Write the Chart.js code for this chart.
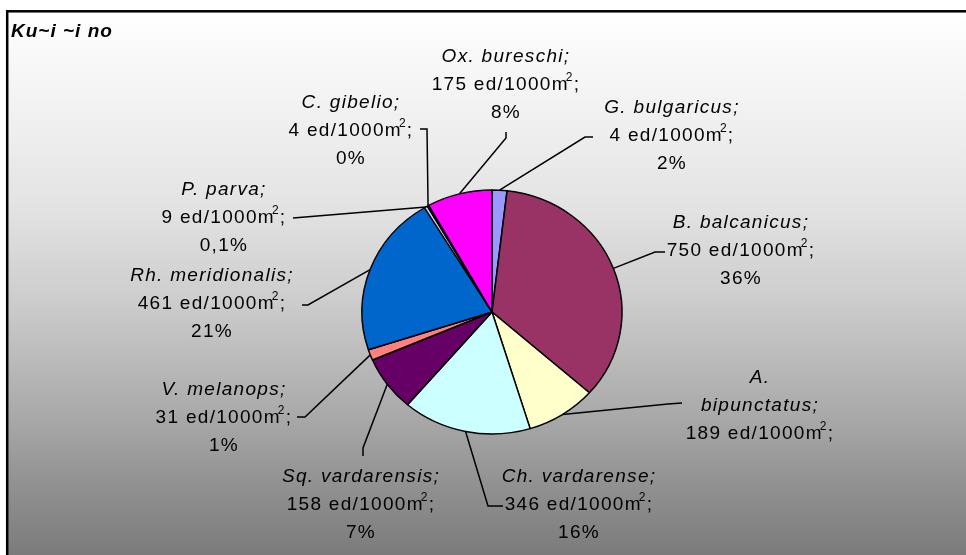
<!DOCTYPE html>
<html>
<head>
<meta charset="utf-8">
<script src="https://cdn.jsdelivr.net/npm/chart.js@4"></script>
<style>
  html, body { margin: 0; padding: 0; background: #fff; overflow: hidden; }
  canvas { display: block; }
</style>
</head>
<body>
<canvas id="grafico" width="966" height="555"></canvas>
<script>
// clockwise from 12 o'clock
let species = ["G. bulgaricus", "B. balcanicus", "A.\nbipunctatus", "Ch. vardarense", "Sq. vardarensis",
  "V. melanops", "Rh. meridionalis", "P. parva", "C. gibelio", "Ox. bureschi"];
// slice sizes (ed/1000m2) as drawn; G. bulgaricus slice is ~2% although its label says 4
let densities = [40, 750, 189, 346, 158, 31, 461, 9, 4, 175];
let densityLabels = ["4", "750", "189", "346", "158", "31", "461", "9", "4", "175"];
let percentLabels = ["2%", "36%", "", "16%", "7%", "1%", "21%", "0,1%", "0%", "8%"];
let colors = ["#9999FF", "#993366", "#FFFFCC", "#CCFFFF", "#660066", "#FF8080", "#0066CC", "#CCCCFF", "#000080", "#FF00FF"];

// label block centre x, first line y, and leader line points near the text
let layout = [
  { x: 672, y: 108, pts: [[593, 137], [585, 137]] },
  { x: 741, y: 223, pts: [[665, 252], [655, 252]] },
  { x: 760, y: 378, pts: [[682, 403], [668, 404]] },
  { x: 579, y: 477, pts: [[503, 506], [488, 506]] },
  { x: 361, y: 477, pts: [[363, 456], [363, 448]] },
  { x: 224, y: 390, pts: [[297, 417], [305, 417]] },
  { x: 212, y: 276, pts: [[302, 305], [308, 305]] },
  { x: 224, y: 190, pts: [[293, 218]] },
  { x: 351, y: 103, pts: [[420, 129], [427, 129]] },
  { x: 506, y: 57, pts: [[506, 132], [506, 138]] },
];
let squash = 122 / 130;
let lineGap = 27.8;

let fundo = {
  id: "fundo",
  beforeDraw(chart) {
    let ctx = chart.ctx;
    ctx.save();
    ctx.fillStyle = "#fff";
    ctx.fillRect(0, 0, chart.width, chart.height);
    let g = ctx.createLinearGradient(0, 11, 0, 555);
    g.addColorStop(0, "#ffffff");
    g.addColorStop(0.2, "#f0f0f0");
    g.addColorStop(0.35, "#e4e4e4");
    g.addColorStop(0.53, "#cdcdcd");
    g.addColorStop(0.62, "#bebebe");
    g.addColorStop(0.75, "#a8a8a8");
    g.addColorStop(0.86, "#939393");
    g.addColorStop(1, "#7b7b7b");
    ctx.fillStyle = g;
    ctx.fillRect(7, 11, 1100, 600);
    ctx.strokeStyle = "#000";
    ctx.lineWidth = 2.5;
    ctx.strokeRect(7.2, 11.3, 1100, 600);
    ctx.font = "bold italic 19px 'Liberation Sans', Arial, sans-serif";
    ctx.letterSpacing = "1px";
    ctx.fillStyle = "#000";
    ctx.textBaseline = "middle";
    ctx.fillText("Ku~i ~i no", 11, 32);
    ctx.restore();
  },
  beforeDatasetsDraw(chart) {
    let a = chart.getDatasetMeta(0).data[0];
    let ctx = chart.ctx;
    ctx.save();
    ctx.translate(a.x, a.y);
    ctx.scale(1, squash);
    ctx.translate(-a.x, -a.y);
  },
  afterDatasetsDraw(chart) {
    chart.ctx.restore();
  },
};

function texto(ctx, s, x, y, font) {
  ctx.font = font;
  ctx.fillText(s, x, y);
  return ctx.measureText(s).width;
}

let rotulos = {
  id: "rotulos",
  afterDraw(chart) {
    let ctx = chart.ctx;
    let arcs = chart.getDatasetMeta(0).data;
    let reg = "19px 'Liberation Sans', Arial, sans-serif";
    let ita = "italic 19px 'Liberation Sans', Arial, sans-serif";
    let sup = "12px 'Liberation Sans', Arial, sans-serif";
    ctx.save();
    ctx.fillStyle = "#000";
    ctx.strokeStyle = "#000";
    ctx.lineWidth = 1.5;
    ctx.textBaseline = "middle";
    ctx.letterSpacing = "1.3px";

    arcs.forEach((arc, i) => {
      let p = arc.getProps(["x", "y", "startAngle", "endAngle", "outerRadius"], true);
      let mid = (p.startAngle + p.endAngle) / 2;
      let ex = p.x + Math.cos(mid) * p.outerRadius;
      let ey = p.y + Math.sin(mid) * p.outerRadius * squash;
      let L = layout[i];
      ctx.beginPath();
      ctx.moveTo(L.pts[0][0], L.pts[0][1]);
      for (let k = 1; k < L.pts.length; k++) ctx.lineTo(L.pts[k][0], L.pts[k][1]);
      ctx.lineTo(ex, ey);
      ctx.stroke();

      let y = L.y;
      let nomes = species[i].split("\n");
      nomes[nomes.length - 1] += ";";
      ctx.textAlign = "center";
      nomes.forEach((n) => {
        ctx.font = ita;
        ctx.fillText(n, L.x, y);
        y += lineGap;
      });

      // density line with superscript 2
      ctx.textAlign = "left";
      let a = densityLabels[i] + " ed/1000m";
      ctx.font = reg;
      let w1 = ctx.measureText(a).width;
      ctx.font = sup;
      let w2 = ctx.measureText("2").width;
      ctx.font = reg;
      let w3 = ctx.measureText(";").width;
      let x = L.x - (w1 + w2 - 3 + w3) / 2;
      texto(ctx, a, x, y, reg);
      x += w1 - 3;
      texto(ctx, "2", x, y - 7, sup);
      x += w2;
      texto(ctx, ";", x, y, reg);
      y += lineGap;

      if (percentLabels[i]) {
        ctx.textAlign = "center";
        texto(ctx, percentLabels[i], L.x, y, reg);
      }
    });
    ctx.restore();
  },
};

let grafico = new Chart(document.getElementById("grafico"), {
  type: "pie",
  data: {
    labels: species,
    datasets: [
      {
        data: densities,
        backgroundColor: colors,
        borderColor: "#000",
        borderWidth: 1.5,
        hoverOffset: 0,
      },
    ],
  },
  options: {
    responsive: false,
    animation: false,
    devicePixelRatio: 1,
    radius: 130,
    layout: { padding: { left: 18, right: 0, top: 69, bottom: 0 } },
    plugins: { legend: { display: false }, tooltip: { enabled: false } },
  },
  plugins: [fundo, rotulos],
});
</script>
</body>
</html>
